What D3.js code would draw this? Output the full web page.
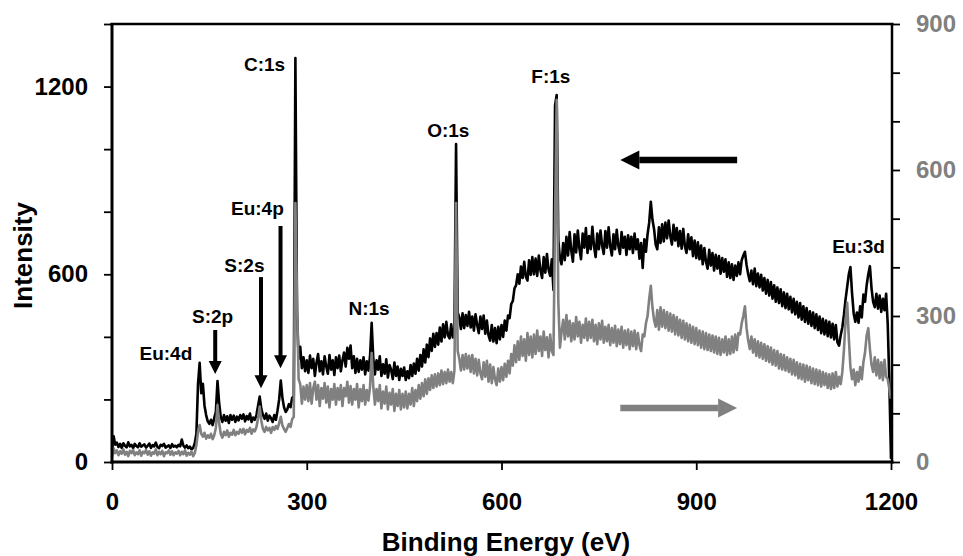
<!DOCTYPE html>
<html><head><meta charset="utf-8">
<script src="https://cdn.jsdelivr.net/npm/d3@7"></script>
<style>
html,body{margin:0;padding:0;background:#fff;}
svg{display:block;font-family:"Liberation Sans",Arial,sans-serif;font-weight:bold;}
</style></head>
<body><svg id="c" width="963" height="556"></svg>
<script>
// Energy grid (eV), 2.5 eV sampling
const energy = d3.range(0, 1200.1, 2.5);
// Black spectrum (left axis, Intensity) – one row per 50 eV
const blackSeries = [
 40, 82, 55, 62, 48, 58, 45, 60, 52, 47, 63, 50, 55, 44, 58, 51, 47, 60, 49, 53,
 56, 46, 52, 59, 45, 54, 50, 62, 48, 44, 55, 51, 58, 46, 50, 53, 45, 57, 49, 52,
 47, 55, 50, 72, 52, 46, 53, 44, 49, 41, 45, 60, 90, 250, 317, 220, 250, 180, 150, 130,
 122, 135, 118, 140, 160, 259, 190, 145, 128, 150, 132, 146, 125, 150, 135, 148, 128, 145, 133, 150,
 138, 152, 130, 147, 136, 155, 128, 142, 135, 150, 180, 209, 170, 150, 138, 155, 132, 148, 140, 128,
 150, 135, 165, 200, 260, 205, 175, 160, 168, 185, 175, 205, 210, 1291, 480, 330, 368, 300, 335, 290,
 325, 285, 340, 300, 330, 275, 318, 345, 290, 322, 280, 338, 305, 282, 342, 295, 325, 278, 335, 300,
 340, 290, 325, 350, 305, 365, 330, 372, 300, 338, 285, 330, 288, 325, 295, 335, 280, 322, 292, 338,
 445, 330, 280, 325, 295, 338, 275, 312, 282, 328, 270, 310, 295, 265, 318, 275, 305, 262, 298, 275,
 302, 262, 290, 268, 310, 275, 315, 282, 330, 292, 342, 305, 360, 318, 375, 335, 395, 355, 410, 368,
 412, 375, 430, 385, 440, 398, 448, 405, 395, 440, 398, 430, 1016, 478, 462, 425, 475, 428, 470, 435,
 480, 430, 465, 420, 472, 438, 412, 465, 425, 468, 410, 452, 405, 388, 438, 385, 428, 380, 432, 392,
 438, 400, 452, 420, 468, 460, 505, 515, 555, 565, 600, 570, 625, 588, 640, 592, 580, 645, 598, 655,
 600, 650, 595, 660, 612, 588, 655, 605, 665, 615, 595, 648, 550, 1140, 1173, 710, 650, 632, 700, 645,
 720, 660, 735, 675, 640, 728, 670, 740, 682, 648, 730, 685, 748, 668, 722, 680, 752, 690, 655, 730,
 680, 740, 692, 665, 738, 685, 750, 690, 660, 728, 680, 742, 690, 665, 735, 685, 720, 662, 725, 680,
 720, 668, 730, 680, 712, 650, 700, 620, 712, 672, 728, 765, 832, 775, 745, 695, 680, 750, 700, 760,
 705, 765, 715, 772, 722, 695, 758, 708, 748, 690, 738, 682, 745, 690, 668, 728, 680, 718, 658, 708,
 652, 702, 648, 692, 632, 684, 640, 618, 678, 628, 668, 612, 662, 618, 658, 602, 652, 608, 648, 592,
 638, 588, 632, 582, 628, 595, 638, 600, 645, 660, 672, 630, 600, 578, 612, 568, 618, 562, 602, 558,
 598, 548, 588, 538, 582, 532, 575, 522, 565, 512, 558, 508, 552, 498, 542, 492, 538, 488, 528, 478,
 522, 472, 512, 462, 508, 455, 498, 448, 492, 442, 482, 435, 478, 428, 472, 422, 465, 412, 458, 408,
 452, 402, 448, 398, 442, 392, 438, 382, 372, 405, 430, 470, 520, 560, 600, 623, 540, 475, 448, 478,
 445, 498, 462, 535, 512, 565, 600, 626, 555, 512, 495, 538, 490, 532, 480, 522, 485, 538, 440, 250,
 10
];
// Gray spectrum (right axis) – one row per 50 eV
const graySeries = [
 10, 28, 18, 24, 14, 22, 17, 26, 15, 21, 12, 23, 18, 25, 14, 20, 16, 24, 13, 21,
 18, 25, 15, 22, 13, 20, 17, 26, 14, 21, 16, 23, 12, 20, 18, 24, 15, 22, 14, 20,
 17, 23, 14, 21, 16, 24, 13, 19, 15, 22, 12, 18, 35, 62, 76, 58, 52, 60, 48, 55,
 50, 58, 47, 55, 70, 117, 80, 58, 50, 62, 55, 65, 52, 60, 56, 66, 55, 62, 58, 67,
 60, 68, 57, 66, 62, 70, 58, 67, 63, 72, 90, 114, 85, 68, 62, 72, 65, 70, 60, 72,
 66, 74, 68, 80, 93, 75, 68, 62, 70, 78, 72, 88, 93, 532, 330, 170, 160, 120, 155, 128,
 158, 125, 162, 120, 152, 165, 128, 158, 115, 152, 130, 162, 122, 155, 112, 150, 128, 160, 118, 152,
 128, 158, 115, 152, 135, 165, 122, 156, 118, 150, 128, 160, 112, 150, 125, 158, 118, 148, 126, 155,
 224, 155, 118, 150, 125, 158, 110, 145, 120, 155, 108, 142, 118, 150, 105, 140, 115, 148, 108, 140,
 112, 145, 110, 140, 118, 152, 115, 148, 125, 158, 130, 162, 135, 170, 140, 172, 148, 178, 152, 180,
 155, 182, 158, 188, 160, 185, 162, 190, 165, 185, 162, 188, 532, 228, 212, 188, 220, 190, 222, 192,
 218, 185, 220, 182, 212, 178, 210, 182, 170, 205, 175, 208, 165, 200, 162, 195, 170, 158, 192, 165,
 195, 168, 202, 175, 208, 182, 222, 198, 240, 205, 248, 210, 258, 218, 252, 208, 265, 220, 258, 215,
 262, 222, 270, 228, 258, 218, 268, 230, 256, 215, 262, 228, 220, 500, 744, 330, 235, 268, 292, 252,
 302, 258, 290, 248, 285, 252, 298, 258, 288, 245, 282, 255, 295, 250, 288, 255, 292, 248, 282, 242,
 285, 252, 290, 245, 278, 248, 282, 240, 275, 245, 280, 238, 272, 242, 278, 235, 270, 240, 272, 232,
 268, 238, 270, 232, 265, 240, 228, 262, 258, 285, 300, 335, 362, 318, 292, 278, 312, 272, 318, 278,
 312, 275, 308, 270, 305, 268, 302, 262, 298, 260, 292, 255, 290, 252, 285, 248, 282, 245, 278, 242,
 275, 240, 270, 235, 268, 232, 265, 230, 262, 228, 260, 225, 258, 222, 255, 220, 252, 225, 258, 220,
 252, 222, 258, 225, 262, 230, 265, 262, 285, 300, 320, 275, 250, 232, 258, 225, 252, 218, 248, 215,
 245, 212, 242, 208, 238, 205, 235, 200, 230, 198, 228, 192, 222, 190, 220, 188, 215, 185, 212, 180,
 210, 178, 205, 172, 202, 170, 200, 165, 198, 168, 195, 162, 192, 160, 190, 158, 188, 155, 185, 158,
 182, 152, 180, 150, 182, 152, 185, 155, 175, 160, 185, 230, 290, 327, 255, 195, 170, 190, 158, 185,
 165, 195, 170, 205, 225, 260, 275, 232, 200, 185, 215, 178, 210, 172, 205, 168, 210, 175, 170, 150,
 130
];
const xTicks = [0, 300, 600, 900, 1200];
const leftTicks = [0, 200, 400, 600, 800, 1000, 1200, 1400];
const leftLabels = [0, 600, 1200];
const rightTicks = [0, 100, 200, 300, 400, 500, 600, 700, 800, 900];
const rightLabels = [0, 300, 600, 900];
// Peak annotations (energy, left-axis intensity of text baseline)
const peakLabels = ["Eu:4d", "S:2p", "S:2s", "Eu:4p", "C:1s", "N:1s", "O:1s", "F:1s", "Eu:3d"];
const peakLabelE = [83, 155, 204, 224, 235, 396, 518, 676, 1150];
const peakLabelI = [326, 443, 608, 790, 1251, 470, 1040, 1212, 669];
// Down arrows (energy, from, to in left-axis units)
const arrowE = [159, 229.5, 259.6];
const arrowFrom = [422, 591, 754];
const arrowTo = [281, 236, 300];

const GRAY = "#808080";
const svg = d3.select("#c");
const x = d3.scaleLinear().domain([0, 1200]).range([112, 891]);
const yL = d3.scaleLinear().domain([0, 1400]).range([462, 24]);
const yR = d3.scaleLinear().domain([0, 900]).range([462, 24]);

const lineL = d3.line().x((d, i) => x(energy[i])).y(d => yL(d));
const lineR = d3.line().x((d, i) => x(energy[i])).y(d => yR(d));

svg.append("path").datum(blackSeries).attr("d", lineL)
  .attr("fill", "none").attr("stroke", "#000").attr("stroke-width", 2.6).attr("stroke-linejoin", "round");
svg.append("path").datum(graySeries).attr("d", lineR)
  .attr("fill", "none").attr("stroke", GRAY).attr("stroke-width", 2.6).attr("stroke-linejoin", "round");

// Axes
const fmtL = d => leftLabels.includes(d) ? d : "";
const fmtR = d => rightLabels.includes(d) ? d : "";
const gx = svg.append("g").attr("transform", "translate(0,462)")
  .call(d3.axisBottom(x).tickValues(xTicks).tickSize(8).tickPadding(23).tickFormat(d => d));
const gl = svg.append("g").attr("transform", "translate(112,0)")
  .call(d3.axisLeft(yL).tickValues(leftTicks).tickSize(8).tickPadding(16).tickFormat(fmtL));
const gr = svg.append("g").attr("transform", "translate(892,0)")
  .call(d3.axisRight(yR).tickValues(rightTicks).tickSize(8).tickPadding(16).tickFormat(fmtR));
[gx, gl, gr].forEach(g => {
  g.select(".domain").remove();
  g.selectAll(".tick line").attr("stroke", "#000").attr("stroke-width", 1.8);
  g.selectAll(".tick text").attr("font-size", 24).attr("font-weight", "bold")
    .attr("font-family", '"Liberation Sans",Arial,sans-serif').attr("fill", "#000");
});
gr.selectAll(".tick text").attr("fill", GRAY);

// Frame
svg.append("line").attr("x1", 112).attr("x2", 112).attr("y1", 23).attr("y2", 463.5).attr("stroke", "#000").attr("stroke-width", 3);
svg.append("line").attr("x1", 110.5).attr("x2", 893.5).attr("y1", 462).attr("y2", 462).attr("stroke", "#000").attr("stroke-width", 3);
svg.append("line").attr("x1", 110.5).attr("x2", 893.5).attr("y1", 24).attr("y2", 24).attr("stroke", "#000").attr("stroke-width", 2.5);
svg.append("line").attr("x1", 892).attr("x2", 892).attr("y1", 23).attr("y2", 463.5).attr("stroke", "#000").attr("stroke-width", 2.5);

// Axis titles
svg.append("text").attr("x", 506).attr("y", 551).attr("text-anchor", "middle")
  .attr("font-size", 26).text("Binding Energy (eV)");
svg.append("text").attr("transform", "translate(31.5,255.5) rotate(-90)").attr("text-anchor", "middle")
  .attr("font-size", 26).text("Intensity");

// Peak labels
peakLabels.forEach((t, i) => {
  svg.append("text").attr("x", x(peakLabelE[i])).attr("y", yL(peakLabelI[i]))
    .attr("text-anchor", "middle").attr("font-size", 19).text(t);
});
// Down arrows
arrowE.forEach((e, i) => {
  const ax = x(e), y0 = yL(arrowFrom[i]), y1 = yL(arrowTo[i]);
  svg.append("line").attr("x1", ax).attr("x2", ax).attr("y1", y0).attr("y2", y1 - 12)
    .attr("stroke", "#000").attr("stroke-width", 4);
  svg.append("path").attr("d", `M${ax - 6.5},${y1 - 13}L${ax + 6.5},${y1 - 13}L${ax},${y1}Z`).attr("fill", "#000");
});
// Horizontal axis-indicator arrows
const hArrow = (xFrom, xTo, yy, col) => {
  const dir = Math.sign(xTo - xFrom);
  const hb = xTo - dir * 19;
  svg.append("line").attr("x1", xFrom).attr("x2", hb).attr("y1", yy).attr("y2", yy)
    .attr("stroke", col).attr("stroke-width", 6.5);
  svg.append("path").attr("d", `M${hb},${yy - 9.5}L${hb},${yy + 9.5}L${xTo},${yy}Z`).attr("fill", col);
};
hArrow(x(963), x(783), yL(965), "#000");
hArrow(x(783), x(963), yR(111), GRAY);
</script></body></html>
